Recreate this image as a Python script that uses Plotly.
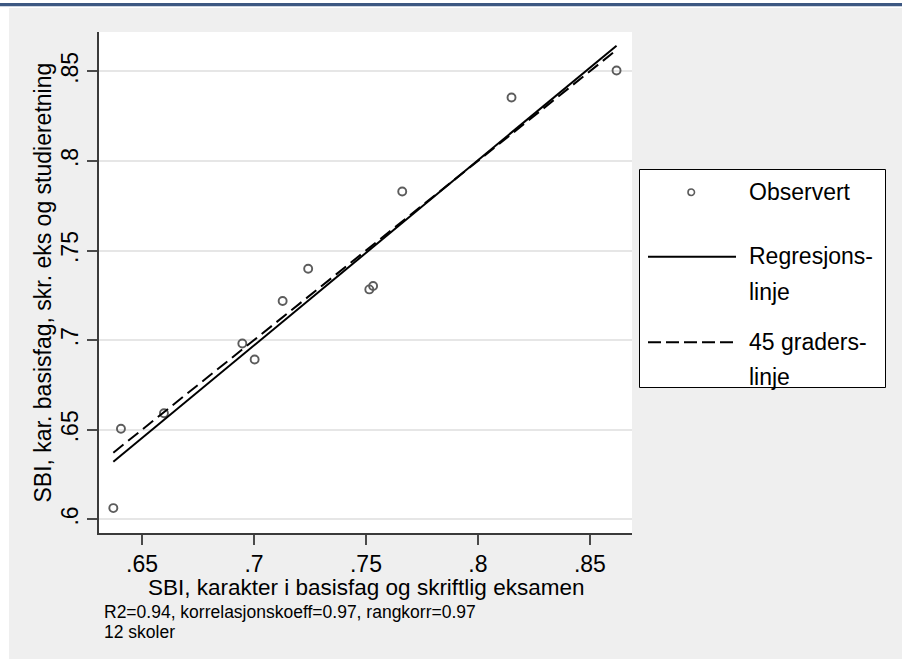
import numpy as np
import plotly.graph_objects as go

# School-level SBI scores: written-exam based (x) vs. basis-subject/study-track based (y)
sbi_exam = [0.6372, 0.6406, 0.6598, 0.6948, 0.7003, 0.7128,
            0.7242, 0.7515, 0.7532, 0.7662, 0.8150, 0.8619]
sbi_track = [0.6063, 0.6506, 0.6592, 0.6981, 0.6892, 0.7218,
             0.7398, 0.7283, 0.7302, 0.7829, 0.8354, 0.8504]

x_ticks = [0.65, 0.70, 0.75, 0.80, 0.85]
x_ticktext = [".65", ".7", ".75", ".8", ".85"]
y_ticks = [0.60, 0.65, 0.70, 0.75, 0.80, 0.85]
y_ticktext = [".6", ".65", ".7", ".75", ".8", ".85"]

legend_labels = ["Observert", "Regresjons-", "linje", "45 graders-", "linje"]
note_lines = ["R2=0.94, korrelasjonskoeff=0.97, rangkorr=0.97", "12 skoler"]

x_title = "SBI, karakter i basisfag og skriftlig eksamen"
y_title = "SBI, kar. basisfag, skr. eks og studieretning"

FONT = "Liberation Sans, Arial, Helvetica, sans-serif"
W, H = 902, 659
L, R, T, B = 99, 632, 32, 533          # plot area in pixels
PW, PH = R - L, B - T

def px(xp):
    return (xp - L) / PW

def py(yp):
    return (B - yp) / PH

x = np.array(sbi_exam)
y = np.array(sbi_track)
slope, intercept = np.polyfit(x, y, 1)
x_line = np.array([x.min(), x.max()])

fig = go.Figure()

fig.add_trace(go.Scatter(
    x=x, y=y, mode="markers", name="Observert",
    marker=dict(symbol="circle-open", size=8, color="#5c5c5c",
                line=dict(width=1.9, color="#5c5c5c")),
    showlegend=False, cliponaxis=False,
))
fig.add_trace(go.Scatter(
    x=x_line, y=intercept + slope * x_line, mode="lines",
    name="Regresjonslinje", line=dict(color="black", width=2),
    showlegend=False, cliponaxis=False,
))
fig.add_trace(go.Scatter(
    x=x_line, y=x_line, mode="lines", name="45 graderslinje",
    line=dict(color="black", width=2, dash="13px,6px"),
    showlegend=False, cliponaxis=False,
))

shapes = [
    # outer grey panel and white plot region
    dict(type="rect", xref="paper", yref="paper", layer="below",
         x0=px(9), x1=px(W + 2), y0=py(H + 2), y1=py(8),
         fillcolor="#efefef", line=dict(width=0)),
    dict(type="rect", xref="paper", yref="paper", layer="below",
         x0=0, x1=1, y0=0, y1=1, fillcolor="white", line=dict(width=0)),
    # header band
    dict(type="rect", xref="paper", yref="paper", layer="below",
         x0=px(-2), x1=px(W + 2), y0=py(6.3), y1=py(3),
         fillcolor="#3d5882", line=dict(width=0)),
    # legend box
    dict(type="rect", xref="paper", yref="paper", layer="above",
         x0=px(639.5), x1=px(885.5), y0=py(387.5), y1=py(169.5),
         fillcolor="white", line=dict(color="black", width=1)),
    # legend keys
    dict(type="circle", xref="paper", yref="paper", layer="above",
         x0=px(688), x1=px(694.5), y0=py(195.5), y1=py(189),
         line=dict(color="#5c5c5c", width=1.6)),
    dict(type="line", xref="paper", yref="paper", layer="above",
         x0=px(648), x1=px(736), y0=py(256.7), y1=py(256.7),
         line=dict(color="black", width=2)),
    dict(type="line", xref="paper", yref="paper", layer="above",
         x0=px(648), x1=px(736), y0=py(342.3), y1=py(342.3),
         line=dict(color="black", width=2, dash="13px,5px")),
]

annotations = []
for label, yc in zip(legend_labels, [192, 256, 292, 342, 377]):
    annotations.append(dict(
        text=label, xref="paper", yref="paper", x=px(747), y=py(yc),
        xanchor="left", yanchor="middle", showarrow=False,
        font=dict(family=FONT, size=23, color="black")))
for line, yc in zip(note_lines, [611.5, 632.0]):
    annotations.append(dict(
        text=line, xref="paper", yref="paper", x=px(102), y=py(yc),
        xanchor="left", yanchor="middle", showarrow=False,
        font=dict(family=FONT, size=17.5, color="black")))
# axis titles
annotations.append(dict(
    text=x_title, xref="paper", yref="paper", x=0.5, y=py(587),
    xanchor="center", yanchor="middle", showarrow=False,
    font=dict(family=FONT, size=22.5, color="black")))
annotations.append(dict(
    text=y_title, xref="paper", yref="paper", x=px(42), y=0.5,
    xanchor="center", yanchor="middle", showarrow=False, textangle=-90,
    font=dict(family=FONT, size=23, color="black")))

axis_common = dict(
    showline=True, linecolor="#3a3a3a", linewidth=1.5,
    ticks="outside", ticklen=10, tickwidth=1.5, tickcolor="#4a4a4a",
    zeroline=False, tickfont=dict(family=FONT, size=23, color="black"),
)

fig.update_layout(
    width=W, height=H, autosize=False,
    margin=dict(l=L, r=W - R, t=T, b=H - B, pad=0),
    paper_bgcolor="white", plot_bgcolor="white",
    font=dict(family=FONT, color="black"),
    shapes=shapes, annotations=annotations, showlegend=False,
    xaxis=dict(
        range=[0.6308, 0.8688], tickvals=x_ticks, ticktext=x_ticktext,
        showgrid=False, ticklabelstandoff=0,
        **axis_common),
    yaxis=dict(
        range=[0.5924, 0.8719], tickvals=y_ticks, ticktext=y_ticktext,
        tickangle=-90, showgrid=True, gridcolor="#e6e6e6", gridwidth=2,
        **axis_common),
)

fig.write_html("out.html")
